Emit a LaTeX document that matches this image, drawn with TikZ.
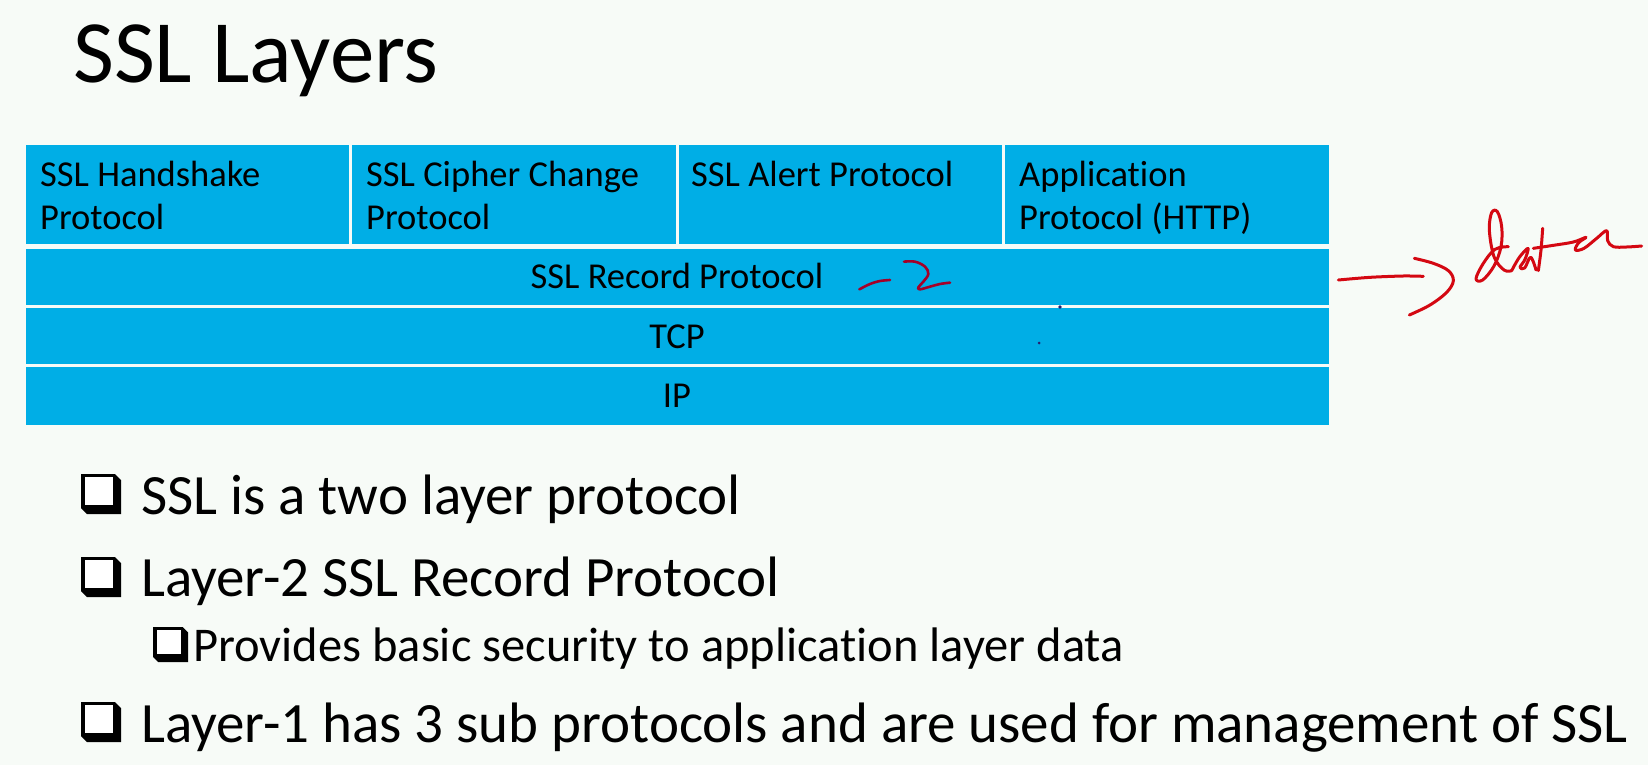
\documentclass[tikz,border=0pt]{standalone}
\usepackage{fontspec}
\setmainfont{Carlito}[Ligatures=NoCommon]
\usetikzlibrary{calc}
\definecolor{slidebg}{RGB}{247,251,247}
\definecolor{layerblue}{RGB}{0,174,230}
\definecolor{inkred}{RGB}{212,8,18}
\definecolor{inkdark}{RGB}{165,0,40}
\definecolor{inkdot}{RGB}{40,30,110}
\begin{document}
\begin{tikzpicture}[x=1pt,y=-1pt,
  cell/.style={fill=layerblue, draw=none, inner sep=0pt, anchor=north west},
  celltext/.style={font=\fontsize{36.5}{42}\selectfont, text=black, inner sep=0pt},
  bullettext/.style={font=\fontsize{57}{60}\selectfont, text=black, inner sep=0pt, anchor=base west},
  subtext/.style={font=\fontsize{48.5}{52}\selectfont, text=black, inner sep=0pt, anchor=base west},
  ink/.style={inkred, line width=3pt, line cap=round, line join=round},
  qbox/.pic={
    \fill[black] (0,0) -- (34,0) -- (40,6) -- (40,40) -- (6,40) -- (0,34) -- cycle;
    \fill[white] (4,3) rectangle (32,31);
  }]

% slide background and page frame
\fill[slidebg] (0,0) rectangle (1648,765);
\useasboundingbox (0,0) rectangle (1648,765);

% title
\node[font=\fontsize{89}{96}\selectfont, anchor=base west, inner sep=0pt] (title) at (73,83) {SSL Layers};

% layer-1 sub protocols
\node[cell, minimum width=323.5, minimum height=99] (hs)  at (25.5,145) {};
\node[cell, minimum width=323.5, minimum height=99] (cc)  at (352,145)  {};
\node[cell, minimum width=323.5, minimum height=99] (al)  at (678.5,145) {};
\node[cell, minimum width=323.5, minimum height=99] (app) at (1005,145) {};

% lower layers
\node[cell, minimum width=1303, minimum height=56] (rec) at (25.5,249) {};
\node[cell, minimum width=1303, minimum height=56] (tcp) at (25.5,308) {};
\node[cell, minimum width=1303, minimum height=58] (ip)  at (25.5,367) {};

% cell labels
\node[celltext, anchor=base west] (hsA)  at (40,186)  {SSL Handshake};
\node[celltext, anchor=base west] (hsB)  at (40,229)  {Protocol};
\node[celltext, anchor=base west] (ccA)  at (366,186) {SSL Cipher Change};
\node[celltext, anchor=base west] (ccB)  at (366,229) {Protocol};
\node[celltext, anchor=base west] (alA)  at (691,186) {SSL Alert Protocol};
\node[celltext, anchor=base west] (appA) at (1019,186) {Application};
\node[celltext, anchor=base west] (appB) at (1019,229) {Protocol (HTTP)};
\node[celltext, anchor=base] (recT) at (677,288) {SSL Record Protocol};
\node[celltext, anchor=base] (tcpT) at (677,348) {TCP};
\node[celltext, anchor=base] (ipT)  at (677,407) {IP};

% bullet list
\pic at (81,474) {qbox};
\node[bullettext] (l1) at (141,514) {SSL is a two layer protocol};
\pic at (81,557) {qbox};
\node[bullettext] (l2) at (141,596) {Layer-2 SSL Record Protocol};
\pic[scale=0.875] at (153,627) {qbox};
\node[subtext] (l3) at (193,661) {Provides basic security to application layer data};
\pic at (81,702) {qbox};
\node[bullettext] (l4) at (141,742) {Layer-1 has 3 sub protocols and are used for management of SSL};

% pen note "-2" beside the record layer
\begin{scope}[shift={(840,250)}, scale=1/3]
  \draw[ink, inkdark, line width=2.6pt] plot[smooth] coordinates {(58,118) (90,102) (120,93) (150,90)};
  \draw[ink, inkdark, line width=2.6pt] plot[smooth, tension=0.6] coordinates
    {(192,35) (225,35) (255,50) (265,72) (250,95) (235,112) (240,118) (270,110) (300,102) (330,98)};
\end{scope}

% pen arrow and the word "data"
\begin{scope}[shift={(1320,200)}, scale=1/3]
  \draw[ink] plot[smooth] coordinates {(55,240) (150,232) (250,228) (310,229)};
  \draw[ink] plot[smooth, tension=0.6] coordinates
    {(283,175) (340,190) (385,212) (400,242) (380,277) (330,315) (268,345)};
  % d
  \draw[ink] plot[smooth, tension=0.6] coordinates
    {(565,140) (525,148) (490,190) (468,236) (488,240) (522,198) (543,140) (545,80) (532,35) (515,38) (508,90) (522,170) (552,210) (575,212)};
  % a
  \draw[ink] plot[smooth, tension=0.6] coordinates
    {(575,212) (598,172) (624,145) (615,178) (600,202) (614,204) (632,172) (648,210)};
  % t
  \draw[ink] plot[smooth] coordinates {(668,85) (663,150) (655,212)};
  \draw[ink] plot[smooth, tension=0.6] coordinates
    {(640,145) (700,136) (760,126) (798,112) (776,128) (766,150) (792,145) (830,115) (860,92) (863,122) (880,140) (920,141) (965,138)};
\end{scope}

% stray pen dots
\fill[inkdot] (1060,307) circle (1.8);
\fill[inkdot] (1039,343) circle (1.5);

\end{tikzpicture}
\end{document}
